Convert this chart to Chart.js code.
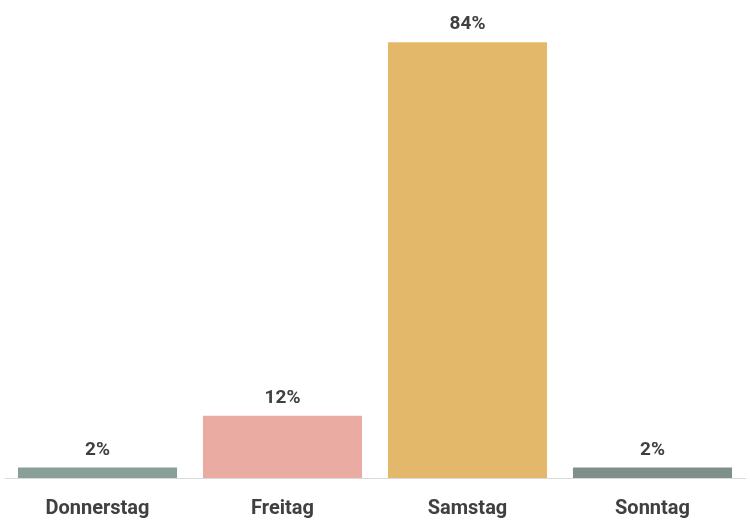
<!DOCTYPE html>
<html>
<head>
<meta charset="utf-8">
<script src="https://cdn.jsdelivr.net/npm/chart.js@4.4.0/dist/chart.umd.min.js"></script>
<style>
  html, body { margin: 0; padding: 0; background: #fff; }
  #wrap { width: 750px; height: 523px; }
</style>
</head>
<body>
<div id="wrap"><canvas id="chart"></canvas></div>
<script>
const days = ["Donnerstag", "Freitag", "Samstag", "Sonntag"];
const shares = [2, 12, 84, 2];
const barColors = ["#88a098", "#eaaca2", "#e3b86a", "#7f8f8a"];

// value labels above each bar
Chart.register({
  id: "valueLabels",
  afterDatasetsDraw: (chart) => {
    const ctx = chart.ctx;
    const meta = chart.getDatasetMeta(0);
    ctx.save();
    ctx.font = "bold 19px Roboto";
    ctx.fillStyle = "#404040";
    ctx.textAlign = "center";
    ctx.textBaseline = "bottom";
    meta.data.forEach((bar, i) => {
      ctx.fillText(shares[i] + "%", bar.x, bar.y - 8);
    });
    ctx.restore();
  },
});

new Chart("chart", {
  type: "bar",
  data: {
    labels: days,
    datasets: [
      {
        data: shares,
        backgroundColor: barColors,
        categoryPercentage: 0.86,
        barPercentage: 1,
      },
    ],
  },
  options: {
    responsive: true,
    maintainAspectRatio: false,
    animation: false,
    layout: {
      padding: { left: 5, right: 5, top: 11, bottom: -17 },
    },
    scales: {
      x: {
        grid: { display: false, drawTicks: false },
        border: { display: true, color: "#d9d9d9", width: 1 },
        ticks: {
          padding: 19,
          color: "#404040",
          font: { family: "Roboto", size: 20, weight: "bold" },
        },
      },
      y: {
        display: false,
        min: 0,
        max: 90,
      },
    },
    plugins: {
      legend: { display: false },
      tooltip: { enabled: false },
    },
  },
});
</script>
</body>
</html>
